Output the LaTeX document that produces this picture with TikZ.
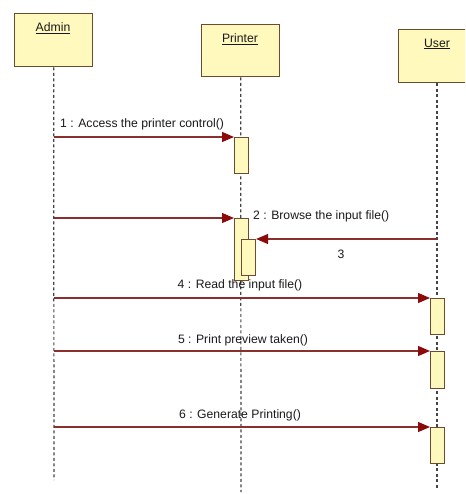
\documentclass[tikz,border=0pt]{standalone}
\usepackage{fontspec}
\setmainfont{Liberation Sans}
\usetikzlibrary{arrows.meta}
\definecolor{boxfill}{HTML}{FFF9BE}
\definecolor{boxline}{HTML}{6E4A2E}
\definecolor{msgcol}{HTML}{8A2E2E}
\definecolor{tipcol}{HTML}{8B0A0A}
\definecolor{lifecol}{HTML}{444444}
\begin{document}
\begin{tikzpicture}[x=1pt,y=-1pt,
  actor/.style={draw=boxline, fill=boxfill, line width=1.3pt, inner sep=0pt, anchor=north west},
  actbox/.style={draw=boxline, fill=boxfill, line width=1.1pt, inner sep=0pt, minimum width=14pt, anchor=north west},
  life/.style={draw=lifecol, line width=1.2pt, dash pattern=on 3pt off 2.5pt},
  msgarrow/.style={draw=msgcol, line width=1.2pt, -{Triangle[length=12pt,width=10pt,fill=tipcol,color=tipcol]}},
  lbl/.style={font=\fontsize{12.2}{14}\selectfont, inner sep=0pt, text=black!90},
  ttl/.style={font=\fontsize{12.2}{14}\selectfont, inner sep=0pt, text=black!90}]
\useasboundingbox (0,0) rectangle (465,494);
\clip (0,0) rectangle (465,494);
% actors
\node[actor, minimum width=78pt, minimum height=53pt] (admin) at (14,13) {};
\node[actor, minimum width=78pt, minimum height=52pt] (printer) at (201,24) {};
\node[actor, minimum width=72pt, minimum height=53pt] (user) at (398,29) {};
\node[ttl] (admint) at (53,28) {\underline{Admin}};
\node[ttl] (printert) at (240,39) {\underline{Printer}};
\node[ttl] (usert) at (437,44) {\underline{User}};
% lifeline ends
\coordinate (adminend) at (54,480);
\coordinate (printerend) at (241,492);
\coordinate (userend) at (437,490);
\draw[life] (admin.south) -- (adminend);
\draw[life] (printer.south) -- (printerend);
\draw[life] (user.south -| userend) -- (userend);
% activations
\node[actbox, minimum height=36pt] (a1) at (234,137) {};
\node[actbox, minimum height=62pt] (a2) at (234,218) {};
\node[actbox, minimum height=36pt] (a3) at (241,239) {};
\node[actbox, minimum height=36pt] (a4) at (430,298) {};
\node[actbox, minimum height=37pt] (a5) at (430,351) {};
\node[actbox, minimum height=36pt] (a6) at (430,427) {};
% message start points
\coordinate (s1) at (54,137);
\coordinate (s2) at (54,218);
\coordinate (s3) at (437,239);
\coordinate (s4) at (54,298);
\coordinate (s5) at (54,351);
\coordinate (s6) at (54,427);
\draw[msgarrow] (s1) -- (a1.north west);
\draw[msgarrow] (s2) -- (a2.north west);
\draw[msgarrow] (s3) -- (a3.north east);
\draw[msgarrow] (s4) -- (a4.north west);
\draw[msgarrow] (s5) -- (a5.north west);
\draw[msgarrow] (s6) -- (a6.north west);
% labels
\node[lbl, anchor=west] (l1) at (60,124) {1 : Access the printer control()};
\node[lbl, anchor=west] (l2) at (253,216) {2 : Browse the input file()};
\node[lbl] (l3) at (341,254) {3};
\node[lbl] (l4) at (240,285) {4 : Read the input file()};
\node[lbl] (l5) at (243,340) {5 : Print preview taken()};
\node[lbl] (l6) at (240,415) {6 : Generate Printing()};
\end{tikzpicture}
\end{document}
